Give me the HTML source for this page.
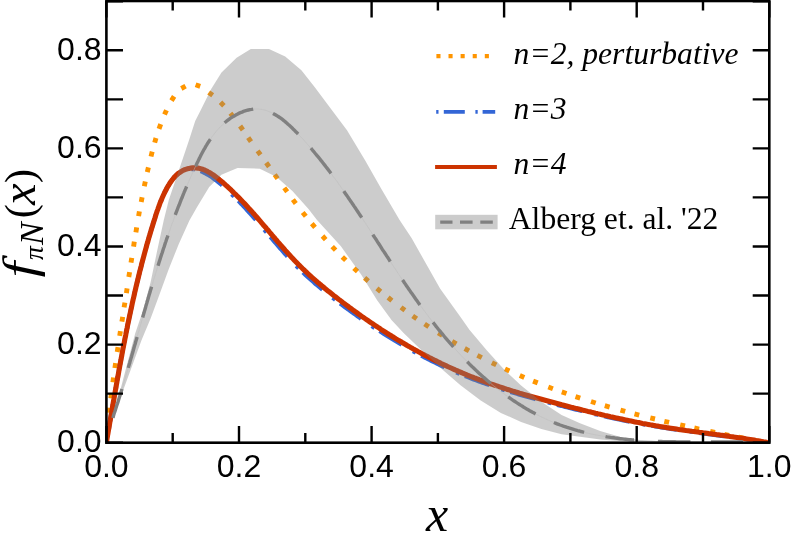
<!DOCTYPE html>
<html><head><meta charset="utf-8"><title>f_piN(x)</title>
<style>
html,body{margin:0;padding:0;background:#fff;}
body{width:793px;height:544px;overflow:hidden;}
svg{display:block;will-change:transform;}
.sans{font-family:"Liberation Sans",sans-serif;font-size:32px;fill:#000;}
.ser{font-family:"Liberation Serif",serif;fill:#000;}
.it{font-style:italic;}
</style></head><body>
<svg width="793" height="544" viewBox="0 0 793 544">
<rect width="793" height="544" fill="#fff"/>
<defs><clipPath id="cp"><rect x="106.4" y="1.0" width="662.9" height="441.7"/></clipPath></defs>
<g clip-path="url(#cp)" fill="none">
<path d="M106.0,428.0L106.4,423.2M106.1,443.3L106.3,438.5M109.0,412.7L109.6,407.9M110.8,398.4L111.4,393.5M112.9,382.3L113.5,377.5M114.9,368.0L115.6,363.2M117.2,352.0L118.0,347.1M119.7,335.9L120.4,331.1M121.9,321.7L122.7,316.8M124.1,307.4L124.9,302.6M126.4,293.1L127.1,288.3M128.8,277.0L129.6,272.2M131.0,262.7L131.8,257.8M133.6,246.6L134.3,241.7M135.9,232.3L136.7,227.4M138.6,216.2L139.4,211.4M141.2,202.0L142.1,197.2M144.3,186.2L145.3,181.4M147.3,172.1L148.4,167.4M151.0,156.5L152.2,151.7M154.7,142.7L156.0,138.0M159.0,128.8L160.7,124.1M164.5,114.6L166.5,110.2M171.5,100.6L174.1,96.4M181.3,88.5L185.6,86.2M195.6,84.8L200.2,86.4M208.7,92.4L212.7,95.3M220.5,102.3L223.9,105.8M230.4,113.3L233.5,117.1M240.1,126.0L242.9,130.0M248.2,137.6L251.0,141.6M257.6,150.9L260.5,154.8M266.2,162.7L269.1,166.7M274.7,174.6L277.6,178.6M284.3,187.9L287.2,191.8M292.9,199.6L295.8,203.5M302.7,212.5L305.8,216.3M311.8,223.7L315.0,227.4M322.5,236.0L325.7,239.6M332.2,246.6L335.6,250.1M342.3,256.9L345.8,260.3M353.9,268.2L357.5,271.5M364.6,277.9L368.3,281.1M376.9,288.4L380.7,291.6M388.1,297.5L391.9,300.6M401.0,307.4L404.9,310.3M412.7,315.9L416.7,318.7M424.6,324.0L428.7,326.7M438.2,332.9L442.4,335.4M452.1,341.3L456.4,343.8M464.7,348.5L469.0,350.8M477.4,355.4L481.8,357.6M491.9,362.7L496.3,364.9M505.0,368.9L509.4,371.0M519.8,375.5L524.3,377.5M533.1,381.1L537.7,382.9M548.3,387.0L552.9,388.7M561.8,391.9L566.5,393.5M575.5,396.6L580.2,398.1M591.0,401.5L595.7,403.0M604.8,405.7L609.6,407.1M620.5,410.1L625.2,411.4M634.5,413.9L639.2,415.1M650.3,417.9L655.0,419.0M664.3,421.3L669.1,422.4M680.2,424.9L685.0,426.0M694.3,428.0L699.1,429.1M710.2,431.4L715.0,432.4M724.4,434.4L729.2,435.3M738.5,437.2L743.3,438.2M754.3,440.4L759.1,441.3M768.1,442.7L772.9,443.1" stroke="#FF9600" stroke-width="4.9"/>
<path d="M106.4,442.7 L106.7,440.8 L107.0,438.9 L107.3,437.0 L107.6,435.1 L108.0,433.2 L108.3,431.4 L108.6,429.5 L109.0,427.6 L109.3,425.7 L109.6,423.8 L109.9,421.9 L110.3,420.0 L110.6,418.1 L110.9,416.2 L111.2,414.3 L111.6,412.5 L111.9,410.6 L112.2,408.7 L112.5,406.8 L112.9,404.9 L113.2,403.0 L113.5,401.1 L113.9,399.2 L114.2,397.3 L114.5,395.5 L114.9,393.6 L115.2,391.7 L115.5,389.8 L115.9,387.9 L116.2,386.0 L116.5,384.1 L116.9,382.2 L117.2,380.4 L117.5,378.5 L117.9,376.6 L118.2,374.7 L118.6,372.8 L118.9,370.9 L119.2,369.0 L119.6,367.2 L119.9,365.3 L120.3,363.4 L120.6,361.5 L121.0,359.6 L121.3,357.7 L121.7,355.9 L122.0,354.0 L122.4,352.1 L122.7,350.2 L123.1,348.3 L123.5,346.4 L123.8,344.6 L124.2,342.7 L124.6,340.8 L124.9,338.9 L125.3,337.1 L125.7,335.2 L126.0,333.3 L126.4,331.4 L126.8,329.5 L127.2,327.7 L127.5,325.8 L127.9,323.9 L128.3,322.0 L128.7,320.2 L129.1,318.3 L129.5,316.4 L129.9,314.5 L130.3,312.7 L130.7,310.8 L131.1,308.9 L131.5,307.1 L131.9,305.2 L132.3,303.3 L132.7,301.5 L133.1,299.6 L133.6,297.7 L134.0,295.9 L134.4,294.0 L134.8,292.1 L135.3,290.3 L135.7,288.4 L136.1,286.5 L136.6,284.7 L137.0,282.8 L137.5,281.0 L137.9,279.1 L138.4,277.2 L138.8,275.4 L139.3,273.5 L139.7,271.7 L140.2,269.8 L140.7,268.0 L141.2,266.1 L141.6,264.2 L142.1,262.4 L142.6,260.5 L143.1,258.7 L143.6,256.8 L144.1,255.0 L144.6,253.1 L145.1,251.3 L145.6,249.5 L146.1,247.6 L146.6,245.8 L147.1,243.9 L147.7,242.1 L148.2,240.2 L148.7,238.4 L149.2,236.6 L149.8,234.7 L150.3,232.9 L150.9,231.0 L151.4,229.2 L152.0,227.4 L152.6,225.5 L153.1,223.7 L153.7,221.9 L154.3,220.0 L154.9,218.2 L155.4,216.4 L156.0,214.5 L156.6,212.7 L157.2,210.9 L157.9,209.1 L158.5,207.3 L159.2,205.5 L159.8,203.7 L160.5,201.9 L161.3,200.1 L162.0,198.3 L162.8,196.5 L163.6,194.7 L164.4,193.0 L165.3,191.2 L166.2,189.5 L167.1,187.7 L168.1,186.0 L169.2,184.3 L170.2,182.6 L171.4,181.0 L172.5,179.5 L173.7,178.0 L175.0,176.5 L176.4,175.2 L177.7,173.9 L179.2,172.8 L180.6,171.9 L182.1,171.1 L183.7,170.4 L185.3,169.9 L186.9,169.5 L188.6,169.3 L190.3,169.1 L192.0,169.1 L193.8,169.2 L195.5,169.5 L197.2,169.8 L198.9,170.3 L200.5,171.0 L202.2,171.7 L203.8,172.5 L205.5,173.4 L207.1,174.3 L208.8,175.2 L210.4,176.3 L212.0,177.3 L213.6,178.5 L215.2,179.7 L216.8,180.9 L218.3,182.2 L219.8,183.4 L221.4,184.7 L222.9,186.0 L224.3,187.3 L225.8,188.6 L227.3,190.0 L228.7,191.3 L230.1,192.6 L231.5,194.0 L232.9,195.4 L234.3,196.7 L235.7,198.1 L237.1,199.5 L238.5,200.9 L239.8,202.3 L241.1,203.7 L242.5,205.1 L243.8,206.5 L245.1,207.9 L246.4,209.3 L247.7,210.8 L249.0,212.2 L250.3,213.6 L251.6,215.1 L252.9,216.5 L254.2,218.0 L255.4,219.4 L256.7,220.9 L257.9,222.3 L259.2,223.8 L260.4,225.2 L261.7,226.7 L262.9,228.2 L264.2,229.6 L265.4,231.1 L266.7,232.5 L267.9,234.0 L269.2,235.5 L270.4,236.9 L271.6,238.4 L272.9,239.8 L274.1,241.3 L275.4,242.7 L276.6,244.2 L277.8,245.6 L279.1,247.1 L280.3,248.5 L281.6,249.9 L282.9,251.4 L284.1,252.8 L285.4,254.2 L286.7,255.6 L287.9,257.0 L289.2,258.4 L290.5,259.8 L291.8,261.2 L293.1,262.6 L294.4,264.0 L295.8,265.3 L297.1,266.7 L298.4,268.0 L299.8,269.4 L301.1,270.7 L302.5,272.0 L303.8,273.3 L305.2,274.6 L306.6,275.9 L308.0,277.2 L309.4,278.5 L310.8,279.7 L312.3,281.0 L313.7,282.2 L315.1,283.5 L316.6,284.7 L318.0,285.9 L319.5,287.2 L320.9,288.4 L322.4,289.6 L323.9,290.8 L325.4,292.0 L326.8,293.2 L328.3,294.4 L329.8,295.6 L331.3,296.7 L332.8,297.9 L334.4,299.1 L335.9,300.2 L337.4,301.4 L338.9,302.6 L340.5,303.7 L342.0,304.9 L343.5,306.0 L345.1,307.2 L346.6,308.3 L348.2,309.4 L349.7,310.6 L351.3,311.7 L352.8,312.8 L354.4,313.9 L356.0,315.1 L357.5,316.2 L359.1,317.3 L360.7,318.4 L362.3,319.5 L363.9,320.6 L365.4,321.7 L367.0,322.8 L368.6,323.8 L370.2,324.9 L371.8,326.0 L373.4,327.1 L375.1,328.1 L376.7,329.2 L378.3,330.2 L379.9,331.3 L381.5,332.3 L383.2,333.4 L384.8,334.4 L386.4,335.4 L388.1,336.5 L389.7,337.5 L391.3,338.5 L393.0,339.5 L394.6,340.5 L396.3,341.5 L398.0,342.5 L399.6,343.5 L401.3,344.4 L402.9,345.4 L404.6,346.4 L406.3,347.3 L408.0,348.3 L409.6,349.2 L411.3,350.2 L413.0,351.1 L414.7,352.0 L416.4,353.0 L418.1,353.9 L419.8,354.8 L421.5,355.7 L423.2,356.6 L424.9,357.5 L426.6,358.4 L428.3,359.2 L430.0,360.1 L431.7,361.0 L433.5,361.8 L435.2,362.7 L436.9,363.5 L438.6,364.3 L440.4,365.2 L442.1,366.0 L443.8,366.8 L445.6,367.6 L447.3,368.4 L449.1,369.2 L450.8,370.0 L452.5,370.7 L454.3,371.5 L456.1,372.2 L457.8,373.0 L459.6,373.7 L461.3,374.5 L463.1,375.2 L464.9,375.9 L466.6,376.6 L468.4,377.3 L470.2,378.0 L471.9,378.7 L473.7,379.4 L475.5,380.1 L477.3,380.7 L479.1,381.4 L480.8,382.0 L482.6,382.7 L484.4,383.3 L486.2,383.9 L488.0,384.6 L489.8,385.2 L491.6,385.8 L493.4,386.4 L495.2,387.0 L497.0,387.6 L498.8,388.2 L500.6,388.8 L502.4,389.4 L504.2,389.9 L506.1,390.5 L507.9,391.1 L509.7,391.6 L511.5,392.2 L513.3,392.7 L515.2,393.3 L517.0,393.8 L518.8,394.4 L520.6,394.9 L522.5,395.4 L524.3,396.0 L526.1,396.5 L528.0,397.0 L529.8,397.5 L531.6,398.0 L533.5,398.5 L535.3,399.0 L537.2,399.5 L539.0,400.0 L540.9,400.5 L542.7,401.0 L544.6,401.5 L546.4,402.0 L548.3,402.5 L550.1,403.0 L552.0,403.4 L553.8,403.9 L555.7,404.4 L557.5,404.9 L559.4,405.4 L561.3,405.8 L563.1,406.3 L565.0,406.8 L566.9,407.2 L568.7,407.7 L570.6,408.2 L572.5,408.6 L574.3,409.1 L576.2,409.6 L578.1,410.0 L579.9,410.5 L581.8,410.9 L583.7,411.4 L585.6,411.8 L587.4,412.3 L589.3,412.7 L591.2,413.2 L593.1,413.6 L595.0,414.1 L596.8,414.5 L598.7,414.9 L600.6,415.4 L602.5,415.8 L604.4,416.2 L606.3,416.6 L608.1,417.1 L610.0,417.5 L611.9,417.9 L613.8,418.3 L615.7,418.7 L617.6,419.1 L619.5,419.5 L621.4,419.9 L623.3,420.3 L625.2,420.7 L627.0,421.1 L628.9,421.5 L630.8,421.8 L632.7,422.2 L634.6,422.6 L636.5,422.9 L638.4,423.3 L640.3,423.7 L642.2,424.0 L644.1,424.4 L646.0,424.7 L647.9,425.0 L649.8,425.4 L651.7,425.7 L653.6,426.0 L655.5,426.4 L657.4,426.7 L659.3,427.0 L661.2,427.3 L663.1,427.6 L665.0,427.9 L666.9,428.2 L668.8,428.5 L670.7,428.8 L672.6,429.0 L674.5,429.3 L676.4,429.6 L678.3,429.9 L680.2,430.1 L682.1,430.4 L684.0,430.7 L685.9,430.9 L687.8,431.2 L689.6,431.5 L691.5,431.7 L693.4,432.0 L695.3,432.3 L697.2,432.5 L699.1,432.8 L701.0,433.0 L702.9,433.3 L704.8,433.5 L706.7,433.8 L708.6,434.0 L710.5,434.3 L712.4,434.5 L714.2,434.8 L716.1,435.0 L718.0,435.3 L719.9,435.6 L721.8,435.8 L723.7,436.1 L725.6,436.3 L727.5,436.6 L729.4,436.9 L731.2,437.1 L733.1,437.4 L735.0,437.7 L736.9,438.0 L738.8,438.2 L740.7,438.5 L742.5,438.8 L744.4,439.1 L746.3,439.4 L748.2,439.7 L750.1,440.0 L751.9,440.3 L753.8,440.6 L755.7,440.9 L757.6,441.3 L759.4,441.6 L761.3,441.9 L763.2,442.3 L765.1,442.6 L766.9,443.0 L769.1,443.2" stroke="#3366D6" stroke-width="4.3" stroke-dasharray="3.4 6 26 12.9" stroke-dashoffset="-5.5"/>
<path d="M106.4,442.7 L106.7,440.8 L107.0,438.9 L107.3,437.0 L107.6,435.1 L108.0,433.2 L108.3,431.4 L108.6,429.5 L109.0,427.6 L109.3,425.7 L109.6,423.8 L109.9,421.9 L110.3,420.0 L110.6,418.1 L110.9,416.2 L111.2,414.3 L111.6,412.5 L111.9,410.6 L112.2,408.7 L112.5,406.8 L112.9,404.9 L113.2,403.0 L113.5,401.1 L113.9,399.2 L114.2,397.3 L114.5,395.5 L114.9,393.6 L115.2,391.7 L115.5,389.8 L115.9,387.9 L116.2,386.0 L116.5,384.1 L116.9,382.2 L117.2,380.4 L117.5,378.5 L117.9,376.6 L118.2,374.7 L118.6,372.8 L118.9,370.9 L119.2,369.0 L119.6,367.2 L119.9,365.3 L120.3,363.4 L120.6,361.5 L121.0,359.6 L121.3,357.7 L121.7,355.9 L122.0,354.0 L122.4,352.1 L122.7,350.2 L123.1,348.3 L123.5,346.4 L123.8,344.6 L124.2,342.7 L124.6,340.8 L124.9,338.9 L125.3,337.1 L125.7,335.2 L126.0,333.3 L126.4,331.4 L126.8,329.5 L127.2,327.7 L127.5,325.8 L127.9,323.9 L128.3,322.0 L128.7,320.2 L129.1,318.3 L129.5,316.4 L129.9,314.5 L130.3,312.7 L130.7,310.8 L131.1,308.9 L131.5,307.1 L131.9,305.2 L132.3,303.3 L132.7,301.5 L133.1,299.6 L133.6,297.7 L134.0,295.9 L134.4,294.0 L134.8,292.1 L135.3,290.3 L135.7,288.4 L136.1,286.5 L136.6,284.7 L137.0,282.8 L137.5,281.0 L137.9,279.1 L138.4,277.2 L138.8,275.4 L139.3,273.5 L139.7,271.7 L140.2,269.8 L140.7,268.0 L141.2,266.1 L141.6,264.2 L142.1,262.4 L142.6,260.5 L143.1,258.7 L143.6,256.8 L144.1,255.0 L144.6,253.1 L145.1,251.3 L145.6,249.5 L146.1,247.6 L146.6,245.8 L147.1,243.9 L147.7,242.1 L148.2,240.2 L148.7,238.4 L149.2,236.6 L149.8,234.7 L150.3,232.9 L150.9,231.0 L151.4,229.2 L152.0,227.4 L152.6,225.5 L153.1,223.7 L153.7,221.9 L154.3,220.0 L154.9,218.2 L155.4,216.4 L156.0,214.5 L156.6,212.7 L157.2,210.9 L157.9,209.1 L158.5,207.3 L159.2,205.5 L159.8,203.7 L160.5,201.9 L161.3,200.1 L162.0,198.3 L162.8,196.5 L163.6,194.7 L164.4,193.0 L165.3,191.2 L166.2,189.5 L167.1,187.7 L168.1,186.0 L169.2,184.3 L170.2,182.6 L171.4,181.0 L172.5,179.5 L173.7,178.0 L175.0,176.5 L176.4,175.2 L177.7,173.9 L179.2,172.8 L180.7,171.8 L182.3,170.8 L183.9,170.0 L185.6,169.4 L187.3,168.8 L189.1,168.4 L190.8,168.1 L192.6,167.9 L194.4,167.9 L196.2,167.9 L198.0,168.1 L199.8,168.5 L201.5,168.9 L203.3,169.5 L205.0,170.2 L206.7,171.0 L208.3,171.9 L210.0,172.8 L211.6,173.9 L213.2,174.9 L214.8,176.1 L216.4,177.3 L218.0,178.5 L219.5,179.8 L221.0,181.0 L222.6,182.3 L224.1,183.6 L225.5,184.9 L227.0,186.2 L228.5,187.6 L229.9,188.9 L231.3,190.2 L232.7,191.6 L234.1,193.0 L235.5,194.3 L236.9,195.7 L238.3,197.1 L239.7,198.5 L241.0,199.9 L242.3,201.3 L243.7,202.7 L245.0,204.1 L246.3,205.5 L247.6,206.9 L248.9,208.4 L250.2,209.8 L251.5,211.2 L252.8,212.7 L254.1,214.1 L255.4,215.6 L256.6,217.0 L257.9,218.5 L259.1,219.9 L260.4,221.4 L261.6,222.8 L262.9,224.3 L264.1,225.8 L265.4,227.2 L266.6,228.7 L267.9,230.1 L269.1,231.6 L270.4,233.1 L271.6,234.5 L272.8,236.0 L274.1,237.4 L275.3,238.9 L276.6,240.3 L277.8,241.8 L279.0,243.2 L280.3,244.7 L281.5,246.1 L282.8,247.5 L284.1,249.0 L285.3,250.4 L286.6,251.8 L287.9,253.2 L289.1,254.6 L290.4,256.0 L291.7,257.4 L293.0,258.8 L294.3,260.2 L295.6,261.6 L297.0,262.9 L298.3,264.3 L299.6,265.6 L301.0,267.0 L302.3,268.3 L303.7,269.6 L305.0,270.9 L306.4,272.2 L307.8,273.5 L309.2,274.8 L310.6,276.1 L312.0,277.4 L313.4,278.6 L314.9,279.9 L316.3,281.1 L317.7,282.4 L319.2,283.6 L320.6,284.8 L322.1,286.1 L323.6,287.3 L325.0,288.5 L326.5,289.7 L328.0,290.9 L329.5,292.1 L331.0,293.3 L332.5,294.5 L334.0,295.7 L335.5,296.8 L337.0,298.0 L338.5,299.2 L340.0,300.3 L341.6,301.5 L343.1,302.7 L344.6,303.8 L346.2,305.0 L347.7,306.1 L349.2,307.3 L350.8,308.4 L352.3,309.5 L353.9,310.7 L355.5,311.8 L357.0,312.9 L358.6,314.1 L360.2,315.2 L361.7,316.3 L363.3,317.4 L364.9,318.5 L366.5,319.6 L368.1,320.7 L369.7,321.8 L371.3,322.9 L372.9,323.9 L374.5,325.0 L376.1,326.1 L377.7,327.2 L379.3,328.2 L380.9,329.3 L382.5,330.3 L384.2,331.4 L385.8,332.4 L387.4,333.5 L389.0,334.5 L390.7,335.5 L392.3,336.5 L394.0,337.5 L395.6,338.6 L397.3,339.6 L398.9,340.6 L400.6,341.5 L402.2,342.5 L403.9,343.5 L405.6,344.5 L407.2,345.5 L408.9,346.4 L410.6,347.4 L412.3,348.3 L413.9,349.3 L415.6,350.2 L417.3,351.1 L419.0,352.1 L420.7,353.0 L422.4,353.9 L424.1,354.8 L425.8,355.7 L427.5,356.6 L429.2,357.5 L430.9,358.3 L432.6,359.2 L434.3,360.1 L436.0,360.9 L437.8,361.8 L439.5,362.6 L441.2,363.5 L442.9,364.3 L444.7,365.1 L446.4,365.9 L448.1,366.7 L449.9,367.5 L451.6,368.3 L453.4,369.1 L455.1,369.9 L456.9,370.6 L458.6,371.4 L460.4,372.1 L462.1,372.9 L463.9,373.6 L465.6,374.3 L467.4,375.1 L469.2,375.8 L470.9,376.5 L472.7,377.2 L474.5,377.9 L476.3,378.5 L478.0,379.2 L479.8,379.9 L481.6,380.5 L483.4,381.2 L485.2,381.8 L486.9,382.5 L488.7,383.1 L490.5,383.8 L492.3,384.4 L494.1,385.0 L495.9,385.6 L497.7,386.2 L499.5,386.8 L501.3,387.4 L503.1,388.0 L504.9,388.6 L506.7,389.2 L508.6,389.7 L510.4,390.3 L512.2,390.9 L514.0,391.4 L515.8,392.0 L517.6,392.5 L519.5,393.1 L521.3,393.6 L523.1,394.2 L524.9,394.7 L526.8,395.2 L528.6,395.7 L530.4,396.3 L532.3,396.8 L534.1,397.3 L535.9,397.8 L537.8,398.3 L539.6,398.8 L541.5,399.3 L543.3,399.8 L545.1,400.3 L547.0,400.8 L548.8,401.3 L550.7,401.8 L552.5,402.3 L554.4,402.8 L556.2,403.3 L558.1,403.8 L559.9,404.3 L561.8,404.8 L563.7,405.2 L565.5,405.7 L567.4,406.2 L569.2,406.7 L571.1,407.2 L573.0,407.6 L574.8,408.1 L576.7,408.6 L578.6,409.0 L580.4,409.5 L582.3,410.0 L584.2,410.4 L586.0,410.9 L587.9,411.4 L589.8,411.8 L591.7,412.3 L593.5,412.7 L595.4,413.2 L597.3,413.6 L599.2,414.1 L601.0,414.5 L602.9,414.9 L604.8,415.4 L606.7,415.8 L608.6,416.2 L610.4,416.7 L612.3,417.1 L614.2,417.5 L616.1,417.9 L618.0,418.3 L619.9,418.7 L621.8,419.1 L623.6,419.5 L625.5,419.9 L627.4,420.3 L629.3,420.7 L631.2,421.1 L633.1,421.5 L635.0,421.9 L636.9,422.3 L638.8,422.6 L640.6,423.0 L642.5,423.4 L644.4,423.7 L646.3,424.1 L648.2,424.4 L650.1,424.8 L652.0,425.1 L653.9,425.4 L655.8,425.8 L657.7,426.1 L659.6,426.4 L661.5,426.7 L663.4,427.0 L665.3,427.3 L667.2,427.7 L669.0,427.9 L670.9,428.2 L672.8,428.5 L674.7,428.8 L676.6,429.1 L678.5,429.4 L680.4,429.7 L682.3,429.9 L684.2,430.2 L686.1,430.5 L688.0,430.7 L689.9,431.0 L691.8,431.3 L693.7,431.5 L695.6,431.8 L697.5,432.0 L699.4,432.3 L701.2,432.5 L703.1,432.8 L705.0,433.0 L706.9,433.3 L708.8,433.6 L710.7,433.8 L712.6,434.1 L714.5,434.3 L716.4,434.6 L718.3,434.8 L720.2,435.1 L722.0,435.3 L723.9,435.6 L725.8,435.9 L727.7,436.1 L729.6,436.4 L731.5,436.7 L733.4,436.9 L735.2,437.2 L737.1,437.5 L739.0,437.8 L740.9,438.0 L742.8,438.3 L744.7,438.6 L746.5,438.9 L748.4,439.2 L750.3,439.5 L752.2,439.8 L754.1,440.1 L755.9,440.5 L757.8,440.8 L759.7,441.1 L761.6,441.4 L763.4,441.8 L765.3,442.1 L767.2,442.5 L769.3,442.7" stroke="#CC3300" stroke-width="5.1" stroke-linejoin="round"/>
<path d="M113.0,418.0 L135.1,333.8 L142.9,310.7 L150.6,282.3 L157.0,251.5 L163.7,220.6 L168.8,200.0 L179.9,167.2 L189.0,140.3 L195.2,120.9 L200.8,110.0 L211.2,89.0 L221.5,72.4 L236.6,57.8 L250.8,49.1 L269.0,49.1 L285.2,56.6 L301.4,70.3 L314.6,87.0 L331.8,110.0 L347.0,130.2 L365.2,160.6 L381.4,188.9 L399.6,220.0 L411.7,238.2 L420.0,253.0 L440.2,288.8 L460.5,317.1 L469.6,330.0 L486.7,350.2 L505.0,370.5 L521.1,385.6 L541.4,401.8 L561.6,415.0 L580.0,423.3 L600.2,431.0 L620.5,437.1 L640.7,440.3 L680.0,442.2 L769.3,442.7 L630.0,441.8 L600.2,439.5 L580.0,436.7 L561.6,434.2 L541.4,429.1 L521.1,422.0 L500.9,412.9 L480.7,400.6 L460.5,385.2 L444.3,371.2 L420.0,348.8 L403.6,333.0 L391.5,319.9 L377.3,300.4 L361.1,274.6 L340.9,246.3 L317.0,220.0 L308.5,209.1 L292.4,190.9 L276.2,176.7 L259.8,168.7 L237.5,168.0 L221.4,174.7 L209.2,186.9 L197.1,207.1 L189.4,220.6 L178.9,243.7 L168.6,269.5 L158.3,297.8 L150.6,318.4 L141.6,340.0 L113.0,418.0Z" fill="#808080" fill-opacity="0.4" stroke="none"/>
<path d="M113.1,418.0 L113.3,416.4 L113.8,414.8 L114.3,413.1 L114.9,411.5 L115.4,409.9 L115.9,408.3 L116.4,406.7 L116.9,405.1 L117.5,403.5 L118.0,401.9 L118.5,400.2 L119.0,398.6 L119.5,397.0 L120.0,395.4 L120.5,393.8 L121.0,392.2 L121.5,390.5 L122.0,388.9 L122.5,387.3 L123.0,385.7 L123.4,384.1 L123.9,382.4 L124.4,380.8 L124.9,379.2 L125.4,377.6 L125.9,375.9 L126.3,374.3 L126.8,372.7 L127.3,371.1 L127.8,369.5 L128.3,367.8 L128.7,366.2 L129.2,364.6 L129.7,363.0 L130.1,361.3 L130.6,359.7 L131.1,358.1 L131.6,356.5 L132.0,354.8 L132.5,353.2 L133.0,351.6 L133.4,350.0 L133.9,348.3 L134.3,346.7 L134.8,345.1 L135.3,343.5 L135.7,341.8 L136.2,340.2 L136.7,338.6 L137.1,337.0 L137.6,335.3 L138.0,333.7 L138.5,332.1 L139.0,330.5 L139.4,328.9 L139.9,327.2 L140.4,325.6 L140.8,324.0 L141.3,322.4 L141.7,320.7 L142.2,319.1 L142.7,317.5 L143.1,315.9 L143.6,314.3 L144.1,312.6 L144.5,311.0 L145.0,309.4 L145.5,307.8 L145.9,306.1 L146.4,304.5 L146.9,302.9 L147.3,301.3 L147.8,299.7 L148.3,298.1 L148.7,296.4 L149.2,294.8 L149.7,293.2 L150.2,291.6 L150.6,290.0 L151.1,288.4 L151.6,286.8 L152.1,285.1 L152.6,283.5 L153.0,281.9 L153.5,280.3 L154.0,278.7 L154.5,277.1 L155.0,275.5 L155.5,273.9 L156.0,272.3 L156.5,270.7 L157.0,269.0 L157.5,267.4 L158.0,265.8 L158.5,264.2 L159.0,262.6 L159.5,261.0 L160.0,259.4 L160.5,257.8 L161.0,256.2 L161.5,254.6 L162.1,253.0 L162.6,251.4 L163.1,249.8 L163.6,248.2 L164.2,246.6 L164.7,245.0 L165.2,243.4 L165.8,241.8 L166.3,240.2 L166.8,238.6 L167.4,237.1 L167.9,235.5 L168.5,233.9 L169.0,232.3 L169.6,230.7 L170.2,229.1 L170.7,227.5 L171.3,225.9 L171.8,224.3 L172.4,222.7 L173.0,221.2 L173.6,219.6 L174.2,218.0 L174.7,216.4 L175.3,214.8 L175.9,213.2 L176.5,211.7 L177.1,210.1 L177.7,208.5 L178.3,206.9 L179.0,205.3 L179.6,203.8 L180.2,202.2 L180.8,200.6 L181.4,199.0 L182.1,197.5 L182.7,195.9 L183.3,194.3 L184.0,192.7 L184.6,191.2 L185.3,189.6 L186.0,188.0 L186.6,186.5 L187.3,184.9 L188.0,183.3 L188.6,181.8 L189.3,180.2 L190.0,178.6 L190.7,177.1 L191.4,175.5 L192.1,174.0 L192.8,172.4 L193.5,170.8 L194.2,169.3 L194.9,167.7 L195.7,166.2 L196.4,164.6 L197.1,163.0 L197.9,161.5 L198.6,159.9 L199.4,158.4 L200.1,156.9 L200.9,155.3 L201.7,153.8 L202.5,152.3 L203.3,150.8 L204.1,149.3 L205.0,147.8 L205.8,146.3 L206.7,144.9 L207.6,143.4 L208.5,142.0 L209.4,140.6 L210.4,139.2 L211.3,137.8 L212.3,136.4 L213.3,135.1 L214.3,133.7 L215.4,132.4 L216.4,131.1 L217.5,129.9 L218.6,128.6 L219.8,127.4 L221.0,126.2 L222.2,125.0 L223.4,123.9 L224.6,122.8 L225.9,121.7 L227.2,120.7 L228.6,119.6 L229.9,118.6 L231.4,117.7 L232.8,116.7 L234.3,115.9 L235.8,115.0 L237.3,114.2 L238.8,113.4 L240.4,112.7 L242.0,112.1 L243.5,111.4 L245.1,110.9 L246.7,110.4 L248.4,110.0 L250.0,109.6 L251.6,109.4 L253.2,109.1 L254.8,109.0 L256.4,109.0 L258.0,109.0 L259.5,109.1 L261.1,109.3 L262.6,109.6 L264.1,109.9 L265.6,110.3 L267.1,110.8 L268.6,111.4 L270.1,112.0 L271.5,112.7 L273.0,113.4 L274.4,114.2 L275.8,115.0 L277.2,115.9 L278.6,116.8 L280.0,117.7 L281.4,118.7 L282.7,119.7 L284.1,120.8 L285.4,121.9 L286.7,123.0 L288.0,124.2 L289.3,125.3 L290.6,126.5 L291.9,127.7 L293.1,129.0 L294.4,130.2 L295.6,131.5 L296.9,132.7 L298.1,134.0 L299.3,135.3 L300.5,136.5 L301.7,137.8 L302.9,139.1 L304.0,140.4 L305.2,141.7 L306.4,143.0 L307.5,144.3 L308.7,145.6 L309.8,146.9 L310.9,148.2 L312.0,149.5 L313.1,150.8 L314.3,152.2 L315.3,153.5 L316.4,154.8 L317.5,156.1 L318.6,157.4 L319.7,158.8 L320.7,160.1 L321.8,161.4 L322.8,162.7 L323.9,164.1 L324.9,165.4 L325.9,166.7 L327.0,168.1 L328.0,169.4 L329.0,170.7 L330.0,172.1 L331.0,173.4 L332.0,174.8 L333.0,176.1 L334.0,177.5 L335.0,178.8 L336.0,180.2 L337.0,181.5 L338.0,182.9 L338.9,184.3 L339.9,185.6 L340.9,187.0 L341.8,188.4 L342.8,189.7 L343.8,191.1 L344.7,192.5 L345.7,193.9 L346.6,195.2 L347.6,196.6 L348.5,198.0 L349.5,199.4 L350.4,200.8 L351.4,202.2 L352.3,203.6 L353.3,205.0 L354.2,206.4 L355.2,207.8 L356.1,209.2 L357.0,210.6 L358.0,212.0 L358.9,213.4 L359.8,214.8 L360.8,216.2 L361.7,217.6 L362.6,219.0 L363.6,220.4 L364.5,221.8 L365.4,223.2 L366.3,224.6 L367.3,226.1 L368.2,227.5 L369.1,228.9 L370.0,230.3 L371.0,231.7 L371.9,233.1 L372.8,234.6 L373.7,236.0 L374.6,237.4 L375.6,238.8 L376.5,240.2 L377.4,241.7 L378.3,243.1 L379.3,244.5 L380.2,245.9 L381.1,247.3 L382.0,248.8 L382.9,250.2 L383.9,251.6 L384.8,253.0 L385.7,254.4 L386.6,255.9 L387.6,257.3 L388.5,258.7 L389.4,260.1 L390.3,261.5 L391.3,263.0 L392.2,264.4 L393.1,265.8 L394.1,267.2 L395.0,268.6 L395.9,270.0 L396.9,271.4 L397.8,272.9 L398.7,274.3 L399.7,275.7 L400.6,277.1 L401.6,278.5 L402.5,279.9 L403.5,281.3 L404.4,282.7 L405.4,284.1 L406.3,285.5 L407.3,286.9 L408.2,288.3 L409.2,289.7 L410.2,291.1 L411.1,292.5 L412.1,293.8 L413.1,295.2 L414.0,296.6 L415.0,298.0 L416.0,299.4 L417.0,300.8 L417.9,302.1 L418.9,303.5 L419.9,304.9 L420.9,306.2 L421.9,307.6 L422.9,309.0 L423.9,310.3 L424.9,311.7 L425.9,313.0 L426.9,314.4 L427.9,315.7 L428.9,317.1 L430.0,318.4 L431.0,319.7 L432.0,321.1 L433.0,322.4 L434.1,323.7 L435.1,325.1 L436.1,326.4 L437.2,327.7 L438.2,329.0 L439.3,330.3 L440.4,331.6 L441.4,332.9 L442.5,334.2 L443.6,335.5 L444.6,336.8 L445.7,338.1 L446.8,339.4 L447.9,340.7 L449.0,341.9 L450.1,343.2 L451.2,344.5 L452.3,345.7 L453.4,347.0 L454.5,348.2 L455.6,349.5 L456.8,350.7 L457.9,352.0 L459.0,353.2 L460.2,354.4 L461.3,355.7 L462.5,356.9 L463.7,358.1 L464.8,359.3 L466.0,360.5 L467.2,361.7 L468.4,362.9 L469.5,364.1 L470.7,365.3 L471.9,366.4 L473.1,367.6 L474.4,368.8 L475.6,369.9 L476.8,371.1 L478.0,372.2 L479.3,373.4 L480.5,374.5 L481.8,375.7 L483.0,376.8 L484.3,377.9 L485.6,379.0 L486.8,380.1 L488.1,381.2 L489.4,382.3 L490.7,383.4 L492.0,384.5 L493.3,385.6 L494.6,386.6 L496.0,387.7 L497.3,388.8 L498.6,389.8 L500.0,390.8 L501.3,391.9 L502.7,392.9 L504.1,393.9 L505.4,394.9 L506.8,395.9 L508.2,396.9 L509.6,397.9 L511.0,398.9 L512.4,399.8 L513.8,400.8 L515.2,401.7 L516.6,402.7 L518.1,403.6 L519.5,404.5 L520.9,405.4 L522.4,406.3 L523.8,407.2 L525.3,408.1 L526.7,409.0 L528.2,409.8 L529.7,410.7 L531.2,411.5 L532.6,412.3 L534.1,413.1 L535.6,413.9 L537.1,414.7 L538.6,415.5 L540.1,416.3 L541.6,417.0 L543.2,417.7 L544.7,418.5 L546.2,419.2 L547.7,419.9 L549.3,420.6 L550.8,421.2 L552.4,421.9 L553.9,422.5 L555.5,423.2 L557.0,423.8 L558.6,424.4 L560.1,425.0 L561.7,425.5 L563.3,426.1 L564.9,426.6 L566.5,427.2 L568.0,427.7 L569.6,428.2 L571.2,428.7 L572.8,429.2 L574.4,429.7 L576.0,430.1 L577.6,430.6 L579.3,431.0 L580.9,431.5 L582.5,431.9 L584.1,432.3 L585.7,432.7 L587.4,433.1 L589.0,433.4 L590.6,433.8 L592.3,434.1 L593.9,434.5 L595.6,434.8 L597.2,435.1 L598.9,435.4 L600.5,435.7 L602.2,436.0 L603.8,436.3 L605.5,436.6 L607.1,436.9 L608.8,437.1 L610.5,437.4 L612.1,437.6 L613.8,437.8 L615.5,438.1 L617.2,438.3 L618.8,438.5 L620.5,438.7 L622.2,438.9 L623.9,439.1 L625.6,439.2 L627.3,439.4 L629.0,439.6 L630.6,439.7 L632.3,439.9 L634.0,440.0 L635.7,440.2 L637.4,440.3 L639.1,440.4 L640.8,440.5 L642.5,440.6 L644.2,440.8 L645.9,440.9 L647.6,441.0 L649.3,441.0 L651.0,441.1 L652.8,441.2 L654.5,441.3 L656.2,441.4 L657.9,441.4 L659.6,441.5 L661.3,441.5 L663.0,441.6 L664.7,441.6 L666.4,441.7 L668.1,441.7 L669.9,441.8 L671.6,441.8 L673.3,441.8 L675.0,441.8 L676.7,441.9 L678.4,441.9 L680.1,441.9 L681.8,441.9 L683.6,441.9 L685.3,442.0 L687.0,442.0 L688.7,442.0 L690.4,442.0 L692.1,442.0 L693.8,442.0 L695.5,442.0 L697.2,442.0 L698.9,442.0 L700.6,442.0 L702.4,442.0 L704.1,442.0 L705.8,442.0 L707.5,442.0 L709.2,441.9 L710.9,441.9 L712.6,441.9 L714.3,441.9 L716.0,441.9 L717.7,441.9 L719.3,441.9 L721.0,441.9 L722.7,441.9 L724.4,441.9 L726.1,441.9 L727.8,441.9 L729.5,441.9 L731.2,441.9 L732.8,441.9 L734.5,441.9 L736.2,441.9 L737.9,441.9 L739.5,441.9 L741.2,441.9 L742.9,442.0 L744.5,442.0 L746.2,442.0 L747.9,442.0 L749.5,442.1 L751.2,442.1 L752.8,442.1 L754.5,442.2 L756.1,442.2 L757.8,442.2 L759.4,442.3 L761.0,442.4 L762.7,442.4 L764.3,442.5 L765.9,442.5 L767.6,442.6 L769.3,442.7" stroke="#bdbdbd" stroke-width="0.5"/>
<path d="M113.1,418.0 L113.3,416.4 L113.8,414.8 L114.3,413.1 L114.9,411.5 L115.4,409.9 L115.9,408.3 L116.4,406.7 L116.9,405.1 L117.5,403.5 L118.0,401.9 L118.5,400.2 L119.0,398.6 L119.5,397.0 L120.0,395.4 L120.5,393.8 L121.0,392.2 L121.5,390.5 L122.0,388.9 M128.3,367.8 L128.7,366.2 L129.2,364.6 L129.7,363.0 L130.1,361.3 L130.6,359.7 L131.1,358.1 L131.6,356.5 L132.0,354.8 L132.5,353.2 L133.0,351.6 L133.4,350.0 L133.9,348.3 L134.3,346.7 L134.8,345.1 L135.3,343.5 L135.7,341.8 L136.2,340.2 L136.7,338.6 L137.1,337.0 M142.7,317.5 L143.1,315.9 L143.6,314.3 L144.1,312.6 L144.5,311.0 L145.0,309.4 L145.5,307.8 L145.9,306.1 L146.4,304.5 L146.9,302.9 L147.3,301.3 L147.8,299.7 L148.3,298.1 L148.7,296.4 L149.2,294.8 L149.7,293.2 L150.2,291.6 L150.6,290.0 L151.1,288.4 L151.6,286.8 M158.0,265.8 L158.5,264.2 L159.0,262.6 L159.5,261.0 L160.0,259.4 L160.5,257.8 L161.0,256.2 L161.5,254.6 L162.1,253.0 L162.6,251.4 L163.1,249.8 L163.6,248.2 L164.2,246.6 L164.7,245.0 L165.2,243.4 L165.8,241.8 L166.3,240.2 L166.8,238.6 L167.4,237.1 L167.9,235.5 M175.3,214.8 L175.9,213.2 L176.5,211.7 L177.1,210.1 L177.7,208.5 L178.3,206.9 L179.0,205.3 L179.6,203.8 L180.2,202.2 L180.8,200.6 L181.4,199.0 L182.1,197.5 L182.7,195.9 L183.3,194.3 L184.0,192.7 L184.6,191.2 L185.3,189.6 L186.0,188.0 L186.6,186.5 M195.7,166.2 L196.4,164.6 L197.1,163.0 L197.9,161.5 L198.6,159.9 L199.4,158.4 L200.1,156.9 L200.9,155.3 L201.7,153.8 L202.5,152.3 L203.3,150.8 L204.1,149.3 L205.0,147.8 L205.8,146.3 L206.7,144.9 L207.6,143.4 L208.5,142.0 L209.4,140.6 L210.4,139.2 M224.6,122.8 L225.9,121.7 L227.2,120.7 L228.6,119.6 L229.9,118.6 L231.4,117.7 L232.8,116.7 L234.3,115.9 L235.8,115.0 L237.3,114.2 L238.8,113.4 L240.4,112.7 L242.0,112.1 L243.5,111.4 L245.1,110.9 L246.7,110.4 L248.4,110.0 L250.0,109.6 L251.6,109.4 L253.2,109.1 M273.0,113.4 L274.4,114.2 L275.8,115.0 L277.2,115.9 L278.6,116.8 L280.0,117.7 L281.4,118.7 L282.7,119.7 L284.1,120.8 L285.4,121.9 L286.7,123.0 L288.0,124.2 L289.3,125.3 L290.6,126.5 L291.9,127.7 L293.1,129.0 L294.4,130.2 L295.6,131.5 L296.9,132.7 L298.1,134.0 M310.9,148.2 L312.0,149.5 L313.1,150.8 L314.3,152.2 L315.3,153.5 L316.4,154.8 L317.5,156.1 L318.6,157.4 L319.7,158.8 L320.7,160.1 L321.8,161.4 L322.8,162.7 L323.9,164.1 L324.9,165.4 L325.9,166.7 L327.0,168.1 L328.0,169.4 L329.0,170.7 L330.0,172.1 L331.0,173.4 M343.8,191.1 L344.7,192.5 L345.7,193.9 L346.6,195.2 L347.6,196.6 L348.5,198.0 L349.5,199.4 L350.4,200.8 L351.4,202.2 L352.3,203.6 L353.3,205.0 L354.2,206.4 L355.2,207.8 L356.1,209.2 L357.0,210.6 L358.0,212.0 L358.9,213.4 L359.8,214.8 L360.8,216.2 L361.7,217.6 M372.8,234.6 L373.7,236.0 L374.6,237.4 L375.6,238.8 L376.5,240.2 L377.4,241.7 L378.3,243.1 L379.3,244.5 L380.2,245.9 L381.1,247.3 L382.0,248.8 L382.9,250.2 L383.9,251.6 L384.8,253.0 L385.7,254.4 L386.6,255.9 L387.6,257.3 L388.5,258.7 L389.4,260.1 L390.3,261.5 M402.5,279.9 L403.5,281.3 L404.4,282.7 L405.4,284.1 L406.3,285.5 L407.3,286.9 L408.2,288.3 L409.2,289.7 L410.2,291.1 L411.1,292.5 L412.1,293.8 L413.1,295.2 L414.0,296.6 L415.0,298.0 L416.0,299.4 L417.0,300.8 L417.9,302.1 L418.9,303.5 L419.9,304.9 M433.0,322.4 L434.1,323.7 L435.1,325.1 L436.1,326.4 L437.2,327.7 L438.2,329.0 L439.3,330.3 L440.4,331.6 L441.4,332.9 L442.5,334.2 L443.6,335.5 L444.6,336.8 L445.7,338.1 L446.8,339.4 L447.9,340.7 L449.0,341.9 L450.1,343.2 L451.2,344.5 L452.3,345.7 L453.4,347.0 M467.2,361.7 L468.4,362.9 L469.5,364.1 L470.7,365.3 L471.9,366.4 L473.1,367.6 L474.4,368.8 L475.6,369.9 L476.8,371.1 L478.0,372.2 L479.3,373.4 L480.5,374.5 L481.8,375.7 L483.0,376.8 L484.3,377.9 L485.6,379.0 L486.8,380.1 L488.1,381.2 L489.4,382.3 L490.7,383.4 M508.2,396.9 L509.6,397.9 L511.0,398.9 L512.4,399.8 L513.8,400.8 L515.2,401.7 L516.6,402.7 L518.1,403.6 L519.5,404.5 L520.9,405.4 L522.4,406.3 L523.8,407.2 L525.3,408.1 L526.7,409.0 L528.2,409.8 L529.7,410.7 L531.2,411.5 L532.6,412.3 L534.1,413.1 L535.6,413.9 M553.9,422.5 L555.5,423.2 L557.0,423.8 L558.6,424.4 L560.1,425.0 L561.7,425.5 L563.3,426.1 L564.9,426.6 L566.5,427.2 L568.0,427.7 L569.6,428.2 L571.2,428.7 L572.8,429.2 L574.4,429.7 L576.0,430.1 L577.6,430.6 L579.3,431.0 L580.9,431.5 L582.5,431.9 L584.1,432.3 M605.5,436.6 L607.1,436.9 L608.8,437.1 L610.5,437.4 L612.1,437.6 L613.8,437.8 L615.5,438.1 L617.2,438.3 L618.8,438.5 L620.5,438.7 L622.2,438.9 L623.9,439.1 L625.6,439.2 L627.3,439.4 L629.0,439.6 L630.6,439.7 L632.3,439.9 L634.0,440.0 M657.9,441.4 L659.6,441.5 L661.3,441.5 L663.0,441.6 L664.7,441.6 L666.4,441.7 L668.1,441.7 L669.9,441.8 L671.6,441.8 L673.3,441.8 L675.0,441.8 L676.7,441.9 L678.4,441.9 L680.1,441.9 L681.8,441.9 L683.6,441.9 L685.3,442.0 L687.0,442.0 L688.7,442.0 L690.4,442.0 M710.9,441.9 L712.6,441.9 L714.3,441.9 L716.0,441.9 L717.7,441.9 L719.3,441.9 L721.0,441.9 L722.7,441.9 L724.4,441.9 L726.1,441.9 L727.8,441.9 L729.5,441.9 L731.2,441.9 L732.8,441.9 L734.5,441.9 L736.2,441.9 L737.9,441.9 L739.5,441.9 L741.2,441.9 L742.9,442.0" stroke="#808080" stroke-width="3.4"/>
</g>
<!-- frame + ticks -->
<path d="M106.4,442.7v-16.6M106.4,1.0v16.6M172.7,442.7v-9.6M172.7,1.0v9.6M239.0,442.7v-16.6M239.0,1.0v16.6M305.3,442.7v-9.6M305.3,1.0v9.6M371.6,442.7v-16.6M371.6,1.0v16.6M437.9,442.7v-9.6M437.9,1.0v9.6M504.1,442.7v-16.6M504.1,1.0v16.6M570.4,442.7v-9.6M570.4,1.0v9.6M636.7,442.7v-16.6M636.7,1.0v16.6M703.0,442.7v-9.6M703.0,1.0v9.6M769.3,442.7v-16.6M769.3,1.0v16.6M106.4,442.7h16.6M769.3,442.7h-16.6M106.4,393.6h16.6M769.3,393.6h-16.6M106.4,344.6h16.6M769.3,344.6h-16.6M106.4,295.5h16.6M769.3,295.5h-16.6M106.4,246.5h16.6M769.3,246.5h-16.6M106.4,197.4h16.6M769.3,197.4h-16.6M106.4,148.4h16.6M769.3,148.4h-16.6M106.4,99.4h16.6M769.3,99.4h-16.6M106.4,50.3h16.6M769.3,50.3h-16.6M106.4,1.2h16.6M769.3,1.2h-16.6" stroke="#000" stroke-width="2.4" fill="none"/>
<rect x="106.4" y="1.0" width="662.9" height="441.7" fill="none" stroke="#000" stroke-width="2.6"/>
<g class="sans"><text x="106.4" y="476.6" text-anchor="middle">0.0</text><text x="239.0" y="476.6" text-anchor="middle">0.2</text><text x="371.6" y="476.6" text-anchor="middle">0.4</text><text x="504.1" y="476.6" text-anchor="middle">0.6</text><text x="636.7" y="476.6" text-anchor="middle">0.8</text><text x="769.3" y="476.6" text-anchor="middle">1.0</text><text x="101.6" y="452.4" text-anchor="end">0.0</text><text x="101.6" y="354.3" text-anchor="end">0.2</text><text x="101.6" y="256.2" text-anchor="end">0.4</text><text x="101.6" y="158.1" text-anchor="end">0.6</text><text x="101.6" y="60.0" text-anchor="end">0.8</text></g>
<!-- axis labels -->
<text class="ser it" x="437.2" y="530.7" font-size="50" text-anchor="middle">x</text>
<g transform="rotate(-90)" class="ser">
<text class="it" font-size="46" transform="translate(-277.4,34.6) scale(1.24,1)">f</text>
<text class="it" font-size="27.5" x="-260.1" y="42.8">π</text>
<text class="it" font-size="34" x="-245" y="42.5">N</text>
<text font-size="42" x="-218.3" y="33.5">(</text>
<text class="it" font-size="48.5" x="-204.9" y="35.4">x</text>
<text font-size="42" x="-183" y="33.5">)</text>
</g>
<!-- legend -->
<g fill="none">
<path d="M436.4,56.1H489.3" stroke="#FF9500" stroke-width="4.2" stroke-dasharray="4.1 8"/>
<path d="M436.2,111.9h2.3M443.8,111.9h21M475.4,111.9h2.3M482.6,111.9h12.6" stroke="#3366D6" stroke-width="3.9"/>
<path d="M435.1,167H496.9" stroke="#CC3300" stroke-width="4.1"/>
<rect x="435.2" y="214.8" width="62.4" height="14.5" fill="#808080" fill-opacity="0.4"/>
<path d="M440.2,222.1h12.3M460,222.1h12.6M480.3,222.1h12.5" stroke="#808080" stroke-width="3.3"/>
</g>
<g class="ser" font-size="31.6">
<text class="it" x="513.6" y="63.6">n=2, perturbative</text>
<text class="it" x="513.6" y="118.7">n=3</text>
<text class="it" x="513.6" y="173.7">n=4</text>
<text x="508.8" y="228.5">Alberg et. al. '22</text>
</g>
</svg>
</body></html>
